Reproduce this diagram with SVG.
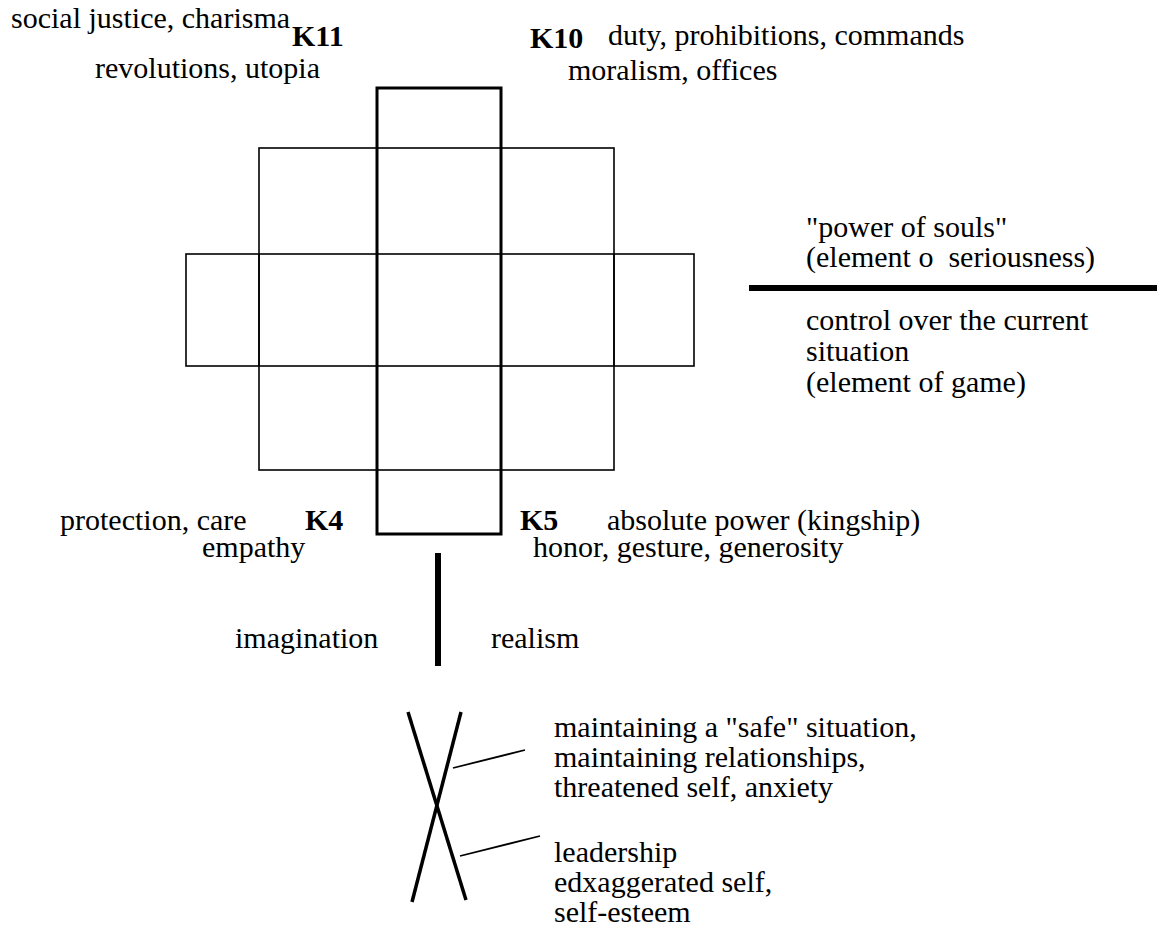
<svg xmlns="http://www.w3.org/2000/svg" width="1157" height="936" viewBox="0 0 1157 936">
  <rect width="1157" height="936" fill="#fff"/>

  <!-- cross-shaped grid of fields -->
  <g id="grid" fill="none" stroke="#000" stroke-width="1.6">
    <rect x="259" y="148" width="355" height="322"/>
    <rect x="186" y="254" width="508" height="112"/>
    <line x1="259" y1="254" x2="259" y2="366"/>
    <line x1="614" y1="254" x2="614" y2="366"/>
  </g>

  <!-- central column K4/K5 - K11/K10 -->
  <g id="column" fill="none" stroke="#000" stroke-width="3">
    <rect x="377" y="88" width="124" height="446"/>
  </g>

  <g id="k11">
    <text font-family="Times New Roman" font-size="30" x="11" y="28">social justice, charisma</text>
    <text font-family="Times New Roman" font-size="30" font-weight="bold" x="292" y="46">K11</text>
    <text font-family="Times New Roman" font-size="30" x="95" y="78">revolutions, utopia</text>
  </g>
  <g id="k10">
    <text font-family="Times New Roman" font-size="30" font-weight="bold" x="530" y="48">K10</text>
    <text font-family="Times New Roman" font-size="30" x="608" y="45">duty, prohibitions, commands</text>
    <text font-family="Times New Roman" font-size="30" x="568" y="80">moralism, offices</text>
  </g>
  <g id="k4">
    <text font-family="Times New Roman" font-size="30" x="60" y="530">protection, care</text>
    <text font-family="Times New Roman" font-size="30" font-weight="bold" x="305" y="530">K4</text>
    <text font-family="Times New Roman" font-size="30" x="202" y="557">empathy</text>
  </g>
  <g id="k5">
    <text font-family="Times New Roman" font-size="30" font-weight="bold" x="520" y="530">K5</text>
    <text font-family="Times New Roman" font-size="30" x="607" y="530">absolute power (kingship)</text>
    <text font-family="Times New Roman" font-size="30" x="533" y="557">honor, gesture, generosity</text>
  </g>

  <!-- seriousness / game divider -->
  <g id="seriousness-game">
    <text font-family="Times New Roman" font-size="30" x="806" y="237">"power of souls"</text>
    <text font-family="Times New Roman" font-size="30" x="806" y="267" xml:space="preserve">(element o  seriousness)</text>
    <line x1="749" y1="288" x2="1157" y2="288" stroke="#000" stroke-width="6"/>
    <text font-family="Times New Roman" font-size="30" x="806" y="330">control over the current</text>
    <text font-family="Times New Roman" font-size="30" x="806" y="361">situation</text>
    <text font-family="Times New Roman" font-size="30" x="806" y="392">(element of game)</text>
  </g>

  <!-- imagination / realism divider -->
  <g id="imagination-realism">
    <line x1="438" y1="553" x2="438" y2="666" stroke="#000" stroke-width="6"/>
    <text font-family="Times New Roman" font-size="30" x="235" y="648">imagination</text>
    <text font-family="Times New Roman" font-size="30" x="491" y="648">realism</text>
  </g>

  <!-- crossing lines with labels -->
  <g id="cross">
    <g stroke="#000" stroke-width="3.5">
      <line x1="408" y1="712" x2="466" y2="900"/>
      <line x1="461" y1="712" x2="412" y2="902"/>
    </g>
    <text font-family="Times New Roman" font-size="30" x="554" y="737">maintaining a "safe" situation,</text>
    <text font-family="Times New Roman" font-size="30" x="554" y="767">maintaining relationships,</text>
    <text font-family="Times New Roman" font-size="30" x="554" y="797">threatened self, anxiety</text>
    <text font-family="Times New Roman" font-size="30" x="554" y="862">leadership</text>
    <text font-family="Times New Roman" font-size="30" x="554" y="892">edxaggerated self,</text>
    <text font-family="Times New Roman" font-size="30" x="554" y="922">self-esteem</text>
  </g>
  <g id="connectors" stroke="#000" stroke-width="1.8">
    <line x1="453" y1="768" x2="525" y2="750"/>
    <line x1="460" y1="856" x2="540" y2="836"/>
  </g>
</svg>
